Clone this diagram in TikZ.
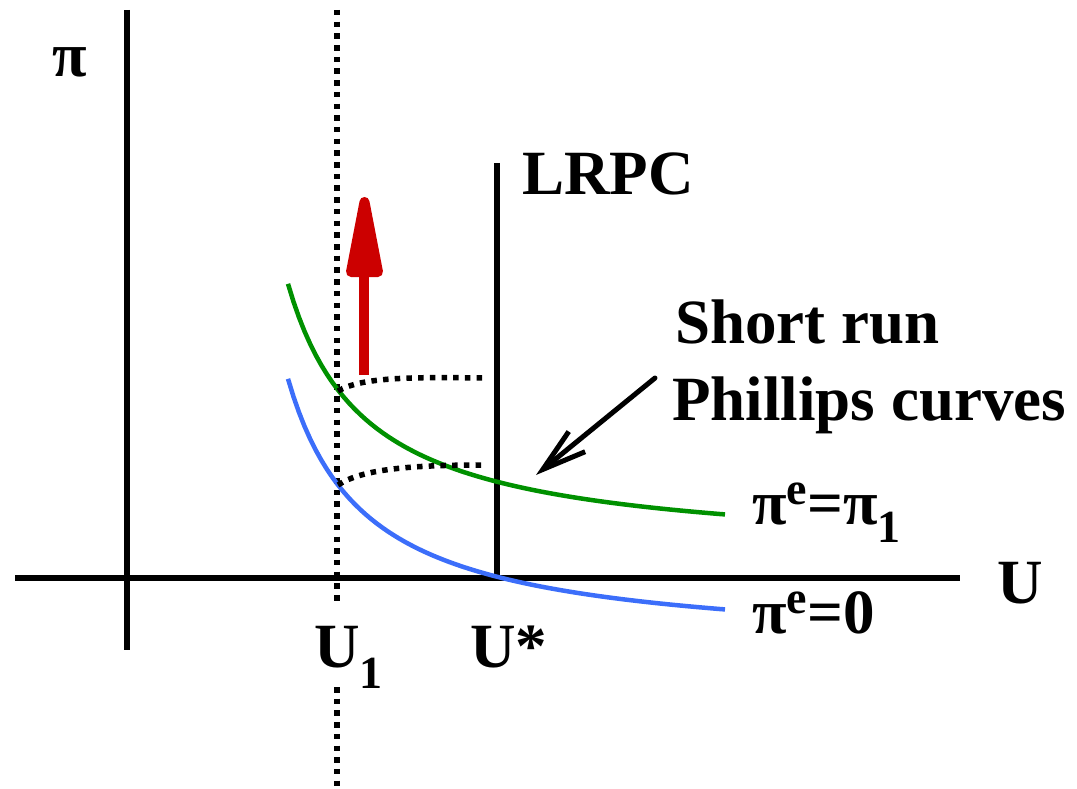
\documentclass[tikz,border=0pt]{standalone}
\usepackage{fontspec}
\setmainfont{Liberation Serif}
\usetikzlibrary{arrows.meta}
\definecolor{srgreen}{RGB}{0,145,0}
\definecolor{srblue}{RGB}{60,110,250}
\definecolor{arrred}{RGB}{204,0,0}
\newcommand{\scr}[1]{{\fontsize{46}{48}\selectfont #1}}
\begin{document}
\begin{tikzpicture}[x=1pt,y=-1pt,
  lbl/.style={inner sep=0pt, anchor=base west, font=\fontsize{63}{66}\selectfont\bfseries},
  axis/.style={line width=5.5pt},
  dots/.style={line width=5.5pt, dash pattern=on 5.5pt off 6.2pt},
  curve/.style={line width=4.5pt}]
\useasboundingbox (0,0) rectangle (1077,789);
% coordinates
\coordinate (ytop) at (127,10);
\coordinate (ybot) at (127,650);
\coordinate (xl) at (15,578);
\coordinate (xr) at (960,578);
\coordinate (lrtop) at (497,163);
\coordinate (lrbot) at (497,580);
\coordinate (d1) at (337,10);
\coordinate (d2) at (337,603);
\coordinate (d3) at (337,687);
\coordinate (d4) at (337,789);
% axes
\draw[axis] (ytop) -- (ybot);
\draw[axis] (xl) -- (xr);
\draw[line width=6.5pt] (lrtop) -- (lrbot);
% dotted U1 line
\draw[dots] (d1) -- (d2);
\draw[dots] (d3) -- (d4);
% curves
\draw[curve, srgreen] plot[domain=288:725, samples=80] (\x, {555.6 - 212/(\x-210)*100});
\draw[curve, srblue] plot[domain=288:725, samples=80] (\x, {650.6 - 212/(\x-210)*100});
% dotted short-run pieces
\coordinate (g1) at (338,391);
\coordinate (g2) at (483,378);
\coordinate (b1) at (338,485);
\coordinate (b2) at (483,465);
\draw[dots] (g1) .. controls (362,377) and (412,377) .. (g2);
\draw[dots] (b1) .. controls (362,469) and (412,465) .. (b2);
% red arrow
\coordinate (ra) at (364,375);
\coordinate (rb) at (364,250);
\coordinate (rt) at (364.5,202);
\coordinate (rl) at (351,272);
\coordinate (rr) at (378,272);
\draw[arrred, line width=10.5pt] (ra) -- (rb);
\filldraw[arrred, line width=10pt, line join=round] (rt) -- (rr) -- (rl) -- cycle;
% labels
\node[lbl] (pi) at (52,77) {π};
\node[lbl] (lrpc) at (522,195) {LRPC};
\node[lbl] (U) at (997,603) {U};
\node[lbl] (sr1) at (675,343) {Short run};
\node[lbl] (sr2) at (672,420) {Phillips curves};
\node[lbl] (pe1) at (752,524) {π\raisebox{20pt}{\scr{e}}=π\raisebox{-18pt}{\scr{1}}};
\node[lbl] (pe0) at (752,633) {π\raisebox{20pt}{\scr{e}}=0};
\node[lbl] (u1) at (314,667) {U\raisebox{-21pt}{\scr{1}}};
\node[lbl] (us) at (470,667) {U*};
% black arrow
\coordinate (at) at (655,378);
\coordinate (ah) at (536,475);
\draw[line width=5pt, line cap=round, -{Straight Barb[length=44pt,width=26pt]}] (at) -- (ah);
\end{tikzpicture}
\end{document}
